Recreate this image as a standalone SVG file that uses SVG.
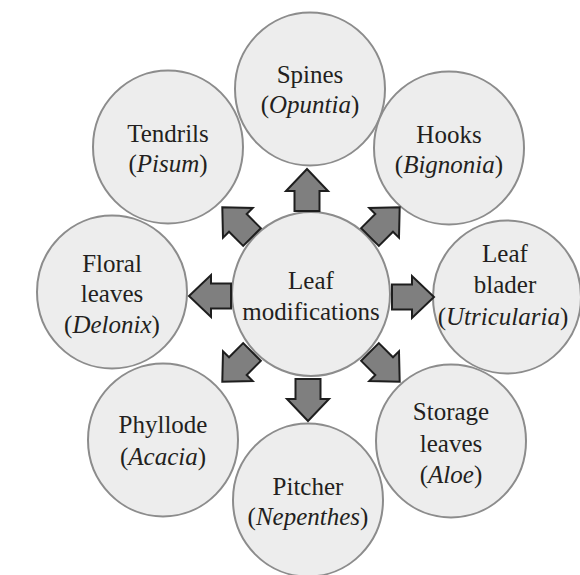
<svg xmlns="http://www.w3.org/2000/svg" width="580" height="575" viewBox="0 0 580 575">
<defs>
<style>
.circ{fill:#ededed;stroke:#8c8c8c;stroke-width:2}
.lbl{font-family:'Liberation Serif','Times New Roman',serif;font-size:25px;fill:#231f20;text-anchor:middle}
.it{font-style:italic}
.arrow{fill:#7f7f7f;stroke:#1e1e1e;stroke-width:2;stroke-linejoin:miter}
</style>
<path id="arr" d="M0,-12.5 L20,-12.5 L20,-21 L42,0 L20,21 L20,12.5 L0,12.5 Z"/>
</defs>
<rect width="580" height="575" fill="#ffffff"/>
<g id="spines"><ellipse class="circ" cx="310" cy="89" rx="75" ry="76.5"/><text class="lbl" font-family="Liberation Serif" x="310" y="83">Spines</text><text class="lbl" font-family="Liberation Serif" x="310" y="113">(<tspan class="it">Opuntia</tspan>)</text></g>
<g id="hooks"><ellipse class="circ" cx="449" cy="148" rx="75" ry="76.5"/><text class="lbl" font-family="Liberation Serif" x="449" y="143">Hooks</text><text class="lbl" font-family="Liberation Serif" x="449" y="173">(<tspan class="it">Bignonia</tspan>)</text></g>
<g id="tendrils"><ellipse class="circ" cx="168" cy="147" rx="75" ry="76.5"/><text class="lbl" font-family="Liberation Serif" x="168" y="142">Tendrils</text><text class="lbl" font-family="Liberation Serif" x="168" y="172">(<tspan class="it">Pisum</tspan>)</text></g>
<g id="floral"><ellipse class="circ" cx="112" cy="292" rx="75" ry="76.5"/><text class="lbl" font-family="Liberation Serif" x="112" y="272">Floral</text><text class="lbl" font-family="Liberation Serif" x="112" y="302">leaves</text><text class="lbl" font-family="Liberation Serif" x="112" y="333">(<tspan class="it">Delonix</tspan>)</text></g>
<g id="bladder"><ellipse class="circ" cx="507" cy="297" rx="74" ry="76.5"/><text class="lbl" font-family="Liberation Serif" x="505" y="262">Leaf</text><text class="lbl" font-family="Liberation Serif" x="505" y="293">blader</text><text class="lbl" font-family="Liberation Serif" x="503" y="325">(<tspan class="it">Utricularia</tspan>)</text></g>
<g id="phyllode"><ellipse class="circ" cx="163" cy="440" rx="75" ry="76.5"/><text class="lbl" font-family="Liberation Serif" x="163" y="433">Phyllode</text><text class="lbl" font-family="Liberation Serif" x="163" y="465">(<tspan class="it">Acacia</tspan>)</text></g>
<g id="storage"><ellipse class="circ" cx="451" cy="441" rx="75" ry="76.5"/><text class="lbl" font-family="Liberation Serif" x="451" y="420">Storage</text><text class="lbl" font-family="Liberation Serif" x="451" y="452">leaves</text><text class="lbl" font-family="Liberation Serif" x="451" y="483">(<tspan class="it">Aloe</tspan>)</text></g>
<g id="pitcher"><ellipse class="circ" cx="308" cy="500" rx="75" ry="76.5"/><text class="lbl" font-family="Liberation Serif" x="308" y="495">Pitcher</text><text class="lbl" font-family="Liberation Serif" x="308" y="525">(<tspan class="it">Nepenthes</tspan>)</text></g>
<g id="center"><ellipse class="circ" cx="311" cy="294" rx="79" ry="82"/><text class="lbl" font-family="Liberation Serif" x="311" y="289">Leaf</text><text class="lbl" font-family="Liberation Serif" x="311" y="320">modifications</text></g>
<g id="connectors" class="arrow">
<use href="#arr" transform="translate(307,211) rotate(-90)"/>
<use href="#arr" transform="translate(308,379) rotate(90)"/>
<use href="#arr" transform="translate(231,296) rotate(180)"/>
<use href="#arr" transform="translate(392,297)"/>
<use href="#arr" transform="translate(252,237) rotate(-135)"/>
<use href="#arr" transform="translate(370,237) rotate(-45)"/>
<use href="#arr" transform="translate(252,352) rotate(135)"/>
<use href="#arr" transform="translate(370,352) rotate(45)"/>
</g>
</svg>
